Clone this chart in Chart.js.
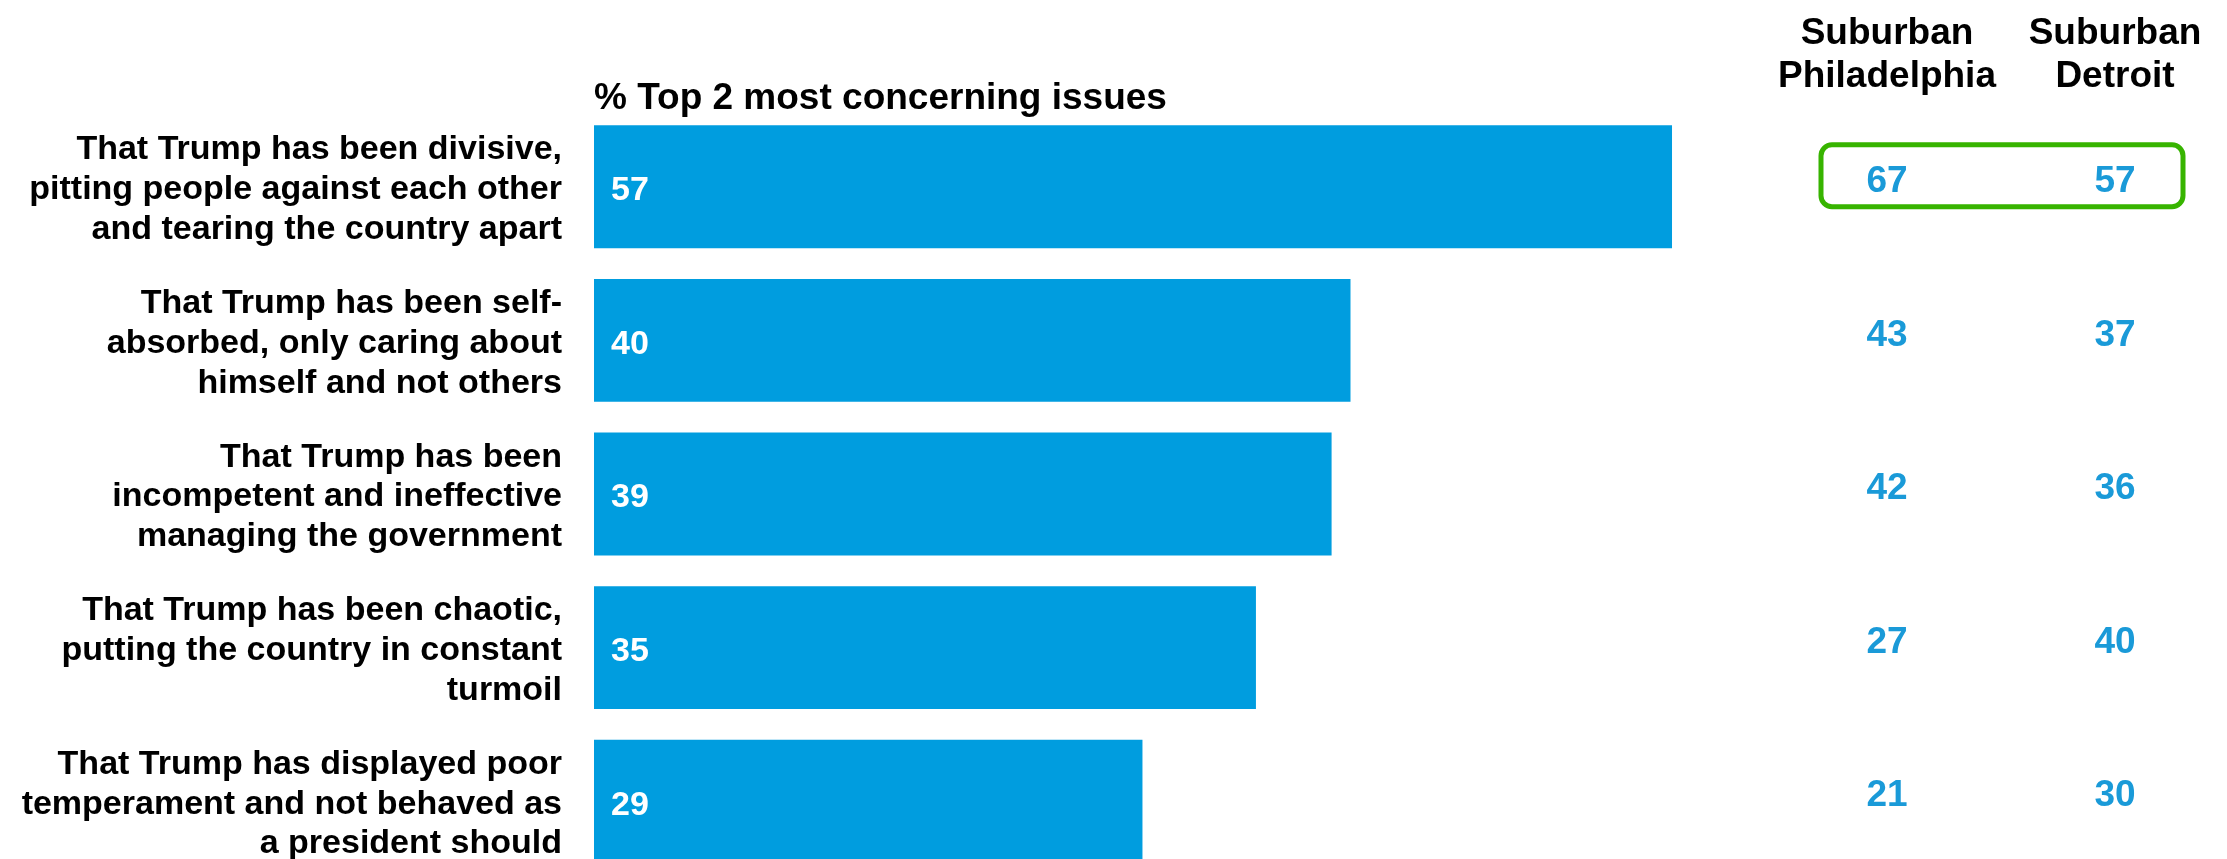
<!DOCTYPE html>
<html>
<head>
<meta charset="utf-8">
<script src="https://cdn.jsdelivr.net/npm/chart.js@4"></script>
<style>
  html, body { margin: 0; padding: 0; background: #fff; overflow: hidden; }
  canvas { display: block; }
</style>
</head>
<body>
<canvas id="chart" width="2227" height="900"></canvas>
<script>
const issues = [
  ["That Trump has been divisive,", "pitting people against each other", "and tearing the country apart"],
  ["That Trump has been self-", "absorbed, only caring about", "himself and not others"],
  ["That Trump has been", "incompetent and ineffective", "managing the government"],
  ["That Trump has been chaotic,", "putting the country in constant", "turmoil"],
  ["That Trump has displayed poor", "temperament and not behaved as", "a president should"]
];
const totals = [57, 40, 39, 35, 29];
const philadelphia = [67, 43, 42, 27, 21];
const detroit = [57, 37, 36, 40, 30];
const columnHeads = [["Suburban", "Philadelphia"], ["Suburban", "Detroit"]];
const title = "% Top 2 most concerning issues";

const FONT = "'Liberation Sans', Arial, sans-serif";
const BLUE = "#009ddf";
const NUM_BLUE = "#1a9ad8";
const GREEN = "#37b400";

/* ===== custom text: title, bar values, right columns ===== */
const extras = {
  id: "extras",
  afterDatasetsDraw(chart) {
    const ctx = chart.ctx;
    const y = chart.scales.y;
    ctx.save();

    // title
    ctx.fillStyle = "#000";
    ctx.font = "bold 37px " + FONT;
    ctx.textAlign = "left";
    ctx.textBaseline = "middle";
    ctx.fillText(title, chart.chartArea.left, 99);

    // values inside bars
    const meta = chart.getDatasetMeta(0);
    ctx.fillStyle = "#fff";
    ctx.font = "bold 34px " + FONT;
    meta.data.forEach((bar, i) => {
      ctx.fillText(String(totals[i]), bar.base + 17, bar.y + 4);
    });

    // right columns
    const colX = [1887, 2115];
    ctx.textAlign = "center";
    ctx.fillStyle = "#000";
    ctx.font = "bold 37px " + FONT;
    columnHeads.forEach((lines, c) => {
      lines.forEach((t, k) => ctx.fillText(t, colX[c], 34 + k * 43));
    });

    ctx.fillStyle = NUM_BLUE;
    ctx.font = "bold 37px " + FONT;
    [philadelphia, detroit].forEach((vals, c) => {
      vals.forEach((v, i) => {
        ctx.fillText(String(v), colX[c], y.getPixelForValue(i) - 5);
      });
    });

    // highlight box round first row
    const cy = y.getPixelForValue(0) - 11;
    ctx.strokeStyle = GREEN;
    ctx.lineWidth = 5;
    ctx.beginPath();
    ctx.roundRect(1821, cy - 31, 362, 62, 11);
    ctx.stroke();

    ctx.restore();
  }
};

new Chart(document.getElementById("chart"), {
  type: "bar",
  data: {
    labels: issues,
    datasets: [{
      data: totals,
      backgroundColor: BLUE,
      barPercentage: 0.8,
      categoryPercentage: 1.0
    }]
  },
  options: {
    indexAxis: "y",
    responsive: false,
    animation: false,
    layout: { padding: { top: 110, bottom: 22, left: 0, right: 120 } },
    plugins: {
      legend: { display: false },
      tooltip: { enabled: false }
    },
    scales: {
      x: { display: false, min: 0, max: 80 },
      y: {
        grid: { display: false },
        border: { display: false },
        ticks: {
          color: "#000",
          padding: 24,
          labelOffset: 3,
          font: { family: FONT, size: 34, weight: "bold", lineHeight: 1.17 }
        },
        afterFit(scale) {
          scale.width = 594;
          // labels sit inside their own band, no extra room needed
          scale.paddingTop = 0;
          scale.paddingBottom = 0;
        }
      }
    }
  },
  plugins: [extras]
});
</script>
</body>
</html>
